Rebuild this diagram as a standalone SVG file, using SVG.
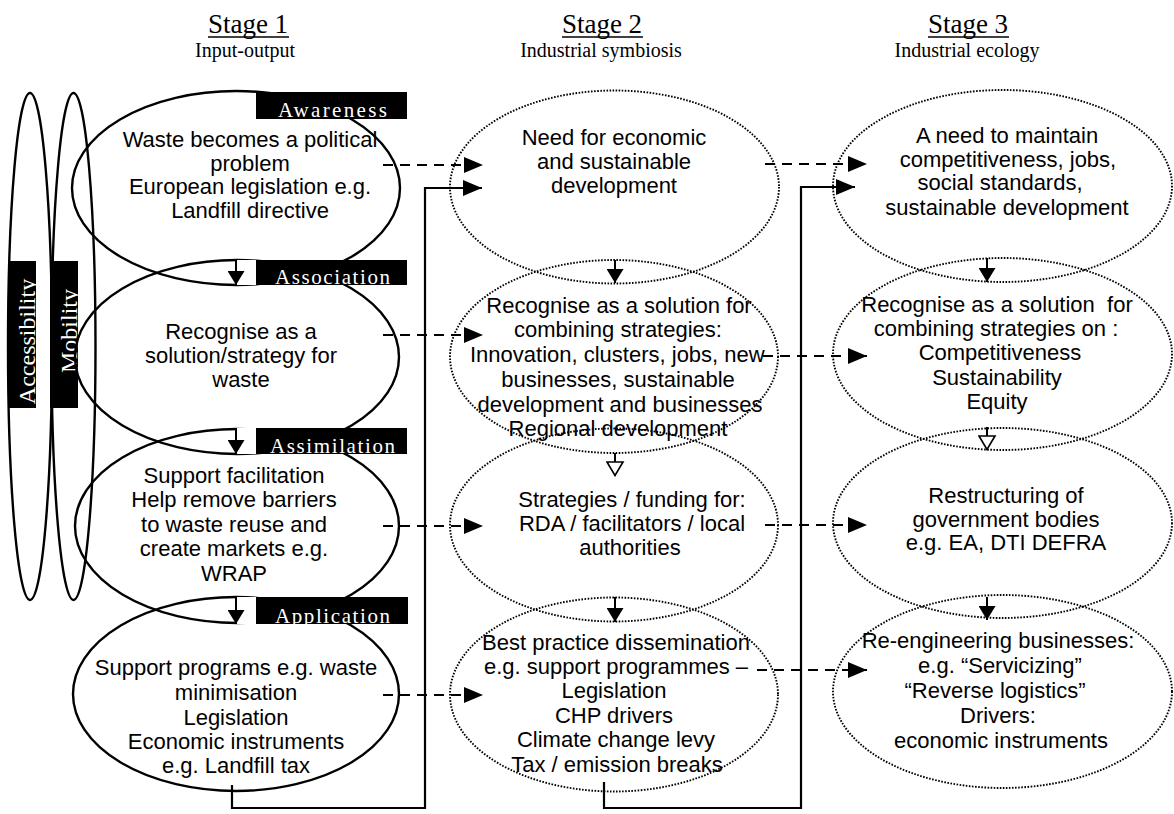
<svg xmlns="http://www.w3.org/2000/svg" width="1174" height="814" viewBox="0 0 1174 814">
  <style>
    .bg { fill: #ffffff; }
    .solid { fill: none; stroke: #000; stroke-width: 2.4; }
    .dotted { fill: none; stroke: #000; stroke-width: 1.9; stroke-dasharray: 1.6 1.5; }
    .body { font-family: "Liberation Sans", Arial, sans-serif; font-size: 22px; fill: #000; text-anchor: middle; }
    .stage { font-family: "Liberation Serif", "Times New Roman", serif; font-size: 27px; fill: #000; text-anchor: middle; }
    .sub { font-family: "Liberation Serif", "Times New Roman", serif; font-size: 20px; fill: #000; text-anchor: middle; }
    .tag { fill: #000; }
    .tagtext { font-family: "Liberation Serif", "Times New Roman", serif; font-size: 21px; fill: #fff; }
    .vtext { font-family: "Liberation Serif", "Times New Roman", serif; font-size: 24px; fill: #fff; text-anchor: middle; }
    .dash { fill: none; stroke: #000; stroke-width: 2; stroke-dasharray: 10 7; }
    .line { fill: none; stroke: #000; stroke-width: 2.2; }
    .down { fill: none; stroke: #000; stroke-width: 2; }
    .pre { white-space: pre; }
  </style>
  <defs>
    <marker id="arrow" markerUnits="userSpaceOnUse" markerWidth="19" markerHeight="16" refX="19" refY="8" orient="auto">
      <path d="M0,0 L19,8 L0,16 z" fill="#000"/>
    </marker>
    <marker id="arrowDown" markerUnits="userSpaceOnUse" markerWidth="14" markerHeight="17" refX="14" refY="8.5" orient="auto">
      <path d="M0,0 L14,8.5 L0,17 z" fill="#000"/>
    </marker>
    <marker id="arrowHollow" markerUnits="userSpaceOnUse" markerWidth="16" markerHeight="19" refX="15" refY="9.5" orient="auto">
      <path d="M1,1.5 L14.5,9.5 L1,17.5 z" fill="#fff" stroke="#000" stroke-width="1.6"/>
    </marker>
    <clipPath id="clipAware"><rect x="256" y="92" width="151" height="27"/></clipPath>
    <clipPath id="clipAssoc"><rect x="256" y="260" width="151" height="25"/></clipPath>
    <clipPath id="clipAssim"><rect x="256" y="428" width="151" height="26"/></clipPath>
    <clipPath id="clipAppl"><rect x="256" y="597" width="152" height="27"/></clipPath>
    <clipPath id="clipAccess"><rect x="8" y="261" width="28" height="147"/></clipPath>
    <clipPath id="clipMobil"><rect x="50" y="261" width="28" height="147"/></clipPath>
  </defs>

  <rect class="bg" x="0" y="0" width="1174" height="814"/>

  <!-- column headings -->
  <g id="heading-stage1">
    <text class="stage" x="248" y="33">Stage 1</text>
    <line x1="208" y1="37" x2="289" y2="37" stroke="#000" stroke-width="1.5"/>
    <text class="sub" x="245" y="57">Input-output</text>
  </g>
  <g id="heading-stage2">
    <text class="stage" x="602" y="33">Stage 2</text>
    <line x1="562" y1="37" x2="643" y2="37" stroke="#000" stroke-width="1.5"/>
    <text class="sub" x="601" y="57">Industrial symbiosis</text>
  </g>
  <g id="heading-stage3">
    <text class="stage" x="968" y="33">Stage 3</text>
    <line x1="928" y1="37" x2="1009" y2="37" stroke="#000" stroke-width="1.5"/>
    <text class="sub" x="967" y="57">Industrial ecology</text>
  </g>

  <!-- tall side loops -->
  <g id="accessibility">
    <ellipse class="solid" cx="30" cy="346.5" rx="22" ry="253.5"/>
    <rect class="tag" x="8" y="261" width="28" height="147"/>
    <g clip-path="url(#clipAccess)">
      <text class="vtext" transform="translate(35,341.5) rotate(-90)">Accessibility</text>
    </g>
  </g>
  <g id="mobility">
    <ellipse class="solid" cx="73.5" cy="346.5" rx="22" ry="253.5"/>
    <rect class="tag" x="50" y="261" width="28" height="147"/>
    <g clip-path="url(#clipMobil)">
      <text class="vtext" transform="translate(77,331) rotate(-90)">Mobility</text>
    </g>
  </g>

  <!-- stage 1: input-output -->
  <g id="s1-awareness">
    <ellipse class="solid" cx="236" cy="188" rx="164" ry="97"/>
    <text class="body" x="250" y="147">Waste becomes a political</text>
    <text class="body" x="250" y="171">problem</text>
    <text class="body" x="250" y="194">European legislation e.g.</text>
    <text class="body" x="250" y="218">Landfill directive</text>
  </g>
  <g id="s1-association">
    <ellipse class="solid" cx="237" cy="357" rx="162" ry="97"/>
    <text class="body" x="241" y="339">Recognise as a</text>
    <text class="body" x="241" y="363">solution/strategy for</text>
    <text class="body" x="241" y="387">waste</text>
  </g>
  <g id="s1-assimilation">
    <ellipse class="solid" cx="237" cy="526" rx="162" ry="97"/>
    <text class="body" x="234" y="483">Support facilitation</text>
    <text class="body" x="234" y="507">Help remove barriers</text>
    <text class="body" x="234" y="532">to waste reuse and</text>
    <text class="body" x="234" y="556">create markets e.g.</text>
    <text class="body" x="234" y="581">WRAP</text>
  </g>
  <g id="s1-application">
    <ellipse class="solid" cx="236" cy="694" rx="163" ry="97"/>
    <text class="body" x="236" y="675">Support programs e.g. waste</text>
    <text class="body" x="236" y="700">minimisation</text>
    <text class="body" x="236" y="725">Legislation</text>
    <text class="body" x="236" y="749">Economic instruments</text>
    <text class="body" x="236" y="773">e.g. Landfill tax</text>
  </g>

  <!-- phase tags over stage 1 -->
  <g id="tag-awareness">
    <rect class="tag" x="256" y="92" width="151" height="27"/>
    <text class="tagtext" clip-path="url(#clipAware)" x="278" y="117" textLength="109" lengthAdjust="spacing">Awareness</text>
  </g>
  <g id="tag-association">
    <rect class="bg" x="236" y="260" width="20" height="25"/>
    <rect class="tag" x="256" y="260" width="151" height="25"/>
    <text class="tagtext" clip-path="url(#clipAssoc)" x="275" y="284" textLength="115" lengthAdjust="spacing">Association</text>
  </g>
  <g id="tag-assimilation">
    <rect class="bg" x="236" y="428" width="20" height="26"/>
    <rect class="tag" x="256" y="428" width="151" height="26"/>
    <text class="tagtext" clip-path="url(#clipAssim)" x="270" y="453" textLength="125" lengthAdjust="spacing">Assimilation</text>
  </g>
  <g id="tag-application">
    <rect class="bg" x="236" y="597" width="20" height="27"/>
    <rect class="tag" x="256" y="597" width="152" height="27"/>
    <text class="tagtext" clip-path="url(#clipAppl)" x="275" y="623" textLength="115" lengthAdjust="spacing">Application</text>
  </g>

  <!-- stage 2: industrial symbiosis -->
  <g id="s2-need">
    <ellipse class="dotted" cx="614.5" cy="187" rx="164.5" ry="96.5"/>
    <text class="body" x="614" y="145">Need for economic</text>
    <text class="body" x="614" y="169">and sustainable</text>
    <text class="body" x="614" y="193">development</text>
  </g>
  <g id="s2-recognise">
    <ellipse class="dotted" cx="614" cy="356.5" rx="164" ry="96.5"/>
    <text class="body" x="619" y="313">Recognise as a solution for</text>
    <text class="body" x="618" y="337">combining strategies:</text>
    <text class="body" x="621" y="362">Innovation, clusters, jobs, new-</text>
    <text class="body" x="618" y="387">businesses, sustainable</text>
    <text class="body" x="620" y="412">development and businesses</text>
    <text class="body" x="618" y="436">Regional development</text>
  </g>
  <g id="s2-strategies">
    <ellipse class="dotted" cx="614" cy="525" rx="164" ry="96.5"/>
    <text class="body" x="632" y="507">Strategies / funding for:</text>
    <text class="body" x="632" y="531">RDA / facilitators / local</text>
    <text class="body" x="630" y="555">authorities</text>
  </g>
  <g id="s2-practice">
    <ellipse class="dotted" cx="614" cy="694.5" rx="164" ry="97"/>
    <text class="body" x="616" y="650">Best practice dissemination</text>
    <text class="body" x="616" y="674">e.g. support programmes –</text>
    <text class="body" x="614" y="698">Legislation</text>
    <text class="body" x="614" y="723">CHP drivers</text>
    <text class="body" x="616" y="747">Climate change levy</text>
    <text class="body" x="617" y="772">Tax / emission breaks</text>
  </g>

  <!-- stage 3: industrial ecology -->
  <g id="s3-need">
    <ellipse class="dotted" cx="1002.5" cy="186" rx="169.5" ry="96"/>
    <text class="body" x="1007" y="143">A need to maintain</text>
    <text class="body" x="1008" y="167">competitiveness, jobs,</text>
    <text class="body" x="1000" y="190">social standards,</text>
    <text class="body" x="1007" y="215">sustainable development</text>
  </g>
  <g id="s3-recognise">
    <ellipse class="dotted" cx="1002.5" cy="354" rx="169.5" ry="96"/>
    <text class="body pre" x="997" y="312">Recognise as a solution  for</text>
    <text class="body" x="996" y="336">combining strategies on :</text>
    <text class="body" x="1000" y="360">Competitiveness</text>
    <text class="body" x="997" y="385">Sustainability</text>
    <text class="body" x="997" y="409">Equity</text>
  </g>
  <g id="s3-restructuring">
    <ellipse class="dotted" cx="1002.5" cy="523" rx="169.5" ry="95"/>
    <text class="body" x="1006" y="503">Restructuring of</text>
    <text class="body" x="1006" y="527">government bodies</text>
    <text class="body" x="1006" y="550">e.g. EA, DTI DEFRA</text>
  </g>
  <g id="s3-reengineering">
    <ellipse class="dotted" cx="1002.5" cy="691.5" rx="169.5" ry="96.5"/>
    <text class="body" x="998" y="648">Re-engineering businesses:</text>
    <text class="body" x="1000" y="673">e.g. “Servicizing”</text>
    <text class="body" x="995" y="698">“Reverse logistics”</text>
    <text class="body" x="998" y="723">Drivers:</text>
    <text class="body" x="1001" y="748">economic instruments</text>
  </g>

  <!-- connectors -->
  <g id="connectors">
    <!-- downward steps within each stage -->
    <line class="down" x1="236" y1="260" x2="236" y2="285" marker-end="url(#arrowDown)"/>
    <line class="down" x1="236" y1="428" x2="236" y2="454" marker-end="url(#arrowDown)"/>
    <line class="down" x1="236" y1="597" x2="236" y2="624" marker-end="url(#arrowDown)"/>

    <line class="down" x1="615" y1="260" x2="615" y2="283" marker-end="url(#arrowDown)"/>
    <line class="down" x1="615" y1="453" x2="615" y2="476" marker-end="url(#arrowHollow)"/>
    <line class="down" x1="615" y1="597" x2="615" y2="622" marker-end="url(#arrowDown)"/>

    <line class="down" x1="987" y1="258" x2="987" y2="282" marker-end="url(#arrowDown)"/>
    <line class="down" x1="987" y1="427" x2="987" y2="450" marker-end="url(#arrowHollow)"/>
    <line class="down" x1="987" y1="597" x2="987" y2="620" marker-end="url(#arrowDown)"/>

    <!-- stage 1 to stage 2 -->
    <line class="dash" x1="383" y1="165" x2="483" y2="165" marker-end="url(#arrow)"/>
    <line class="dash" x1="383" y1="335" x2="483" y2="335" marker-end="url(#arrow)"/>
    <line class="dash" x1="383" y1="526" x2="483" y2="526" marker-end="url(#arrow)"/>
    <line class="dash" x1="383" y1="695" x2="483" y2="695" marker-end="url(#arrow)"/>

    <!-- stage 2 to stage 3 -->
    <line class="dash" x1="765" y1="164" x2="867" y2="164" marker-end="url(#arrow)"/>
    <line class="dash" x1="763" y1="356" x2="867" y2="356" marker-end="url(#arrow)"/>
    <line class="dash" x1="765" y1="525" x2="867" y2="525" marker-end="url(#arrow)"/>
    <line class="dash" x1="757" y1="670" x2="867" y2="670" marker-end="url(#arrow)"/>

    <!-- feedback loops into the next stage -->
    <path class="line" d="M232,785 V808 H425 V188 H482" marker-end="url(#arrow)"/>
    <path class="line" d="M604,782 V808 H801 V187 H855" marker-end="url(#arrow)"/>
  </g>
</svg>
